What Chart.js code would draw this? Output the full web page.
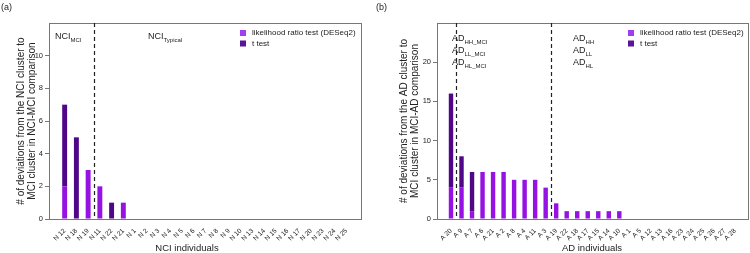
<!DOCTYPE html>
<html>
<head>
<meta charset="utf-8">
<script src="https://cdn.jsdelivr.net/npm/chart.js@4/dist/chart.umd.min.js"></script>
<style>
  body { margin: 0; background: #fff; }
  #wrap { position: relative; width: 750px; height: 253px; }
  canvas { position: absolute; top: 0; }
</style>
</head>
<body>
<div id="wrap">
  <canvas id="chartA" width="375" height="253" style="left:0"></canvas>
  <canvas id="chartB" width="375" height="253" style="left:375px"></canvas>
</div>
<script>
// panel (a) - NCI individuals
const nciLabels = ['N 12', 'N 18', 'N 19', 'N 11', 'N 22', 'N 21', 'N 1', 'N 2', 'N 3', 'N 4', 'N 5', 'N 6', 'N 7',
  'N 8', 'N 9', 'N 10', 'N 13', 'N 14', 'N 15', 'N 16', 'N 17', 'N 20', 'N 23', 'N 24', 'N 25'];
const nciLrt = [2, 0, 3, 2, 0, 1, 0, 0, 0, 0, 0, 0, 0, 0, 0, 0, 0, 0, 0, 0, 0, 0, 0, 0, 0];
const nciTtest = [5, 5, 0, 0, 1, 0, 0, 0, 0, 0, 0, 0, 0, 0, 0, 0, 0, 0, 0, 0, 0, 0, 0, 0, 0];
const nciYTicks = [0, 2, 4, 6, 8, 10];
const nciDividers = [2.5];

// panel (b) - AD individuals
const adLabels = ['A 20', 'A 9', 'A 7', 'A 6', 'A 21', 'A 2', 'A 8', 'A 4', 'A 11', 'A 3', 'A 19', 'A 22', 'A 18',
  'A 17', 'A 15', 'A 14', 'A 10', 'A 1', 'A 5', 'A 12', 'A 13', 'A 16', 'A 23', 'A 24', 'A 25', 'A 26', 'A 27', 'A 28'];
const adLrt = [4, 4, 1, 6, 6, 6, 5, 5, 5, 4, 2, 1, 1, 1, 1, 1, 1, 0, 0, 0, 0, 0, 0, 0, 0, 0, 0, 0];
const adTtest = [12, 4, 5, 0, 0, 0, 0, 0, 0, 0, 0, 0, 0, 0, 0, 0, 0, 0, 0, 0, 0, 0, 0, 0, 0, 0, 0, 0];
const adYTicks = [0, 5, 10, 15, 20];
const adDividers = [0.5, 9.5];

const seriesNames = ['likelihood ratio test (DESeq2)', 't test'];
const barColors = ['#9612e2', '#4f0788'];
const legendColors = ['#a03cf2', '#581598'];

const FONT = 'Arial, "Liberation Sans", Helvetica, sans-serif';
const TEXT = '#222';
const AXIS = '#777';

const toPoints = (arr) => arr.map((v, i) => ({ x: i, y: v }));

const drawSub = (ctx, x, y, main, sub) => {
  ctx.font = '9px ' + FONT;
  ctx.textBaseline = 'middle';
  ctx.textAlign = 'left';
  ctx.fillText(main, x, y);
  const w = ctx.measureText(main).width;
  ctx.font = '6px ' + FONT;
  ctx.fillText(sub, x + w, y + 3);
};

const makeChart = (id, cfg) => {
  const overlay = {
    id: 'overlay',
    afterDatasetsDraw(chart) {
      const { ctx, chartArea: a, scales } = chart;
      ctx.save();
      // frame
      ctx.strokeStyle = AXIS;
      ctx.lineWidth = 1;
      ctx.strokeRect(a.left + 0.5, a.top + 0.5, a.right - a.left - 1, a.bottom - a.top);
      // group dividers
      ctx.strokeStyle = '#222';
      ctx.lineWidth = 1.2;
      ctx.setLineDash([4, 3]);
      for (const d of cfg.dividers) {
        const px = Math.round(scales.x.getPixelForValue(d)) + 0.5;
        ctx.beginPath();
        ctx.moveTo(px, a.top);
        ctx.lineTo(px, a.bottom);
        ctx.stroke();
      }
      ctx.setLineDash([]);
      ctx.fillStyle = TEXT;
      // group labels
      for (const g of cfg.groups) drawSub(ctx, g[0], g[1], g[2], g[3]);
      // legend
      ctx.font = '8px ' + FONT;
      ctx.textBaseline = 'middle';
      chart.data.datasets.forEach((ds, i) => {
        const y = cfg.legend[1] + i * 10.5;
        ctx.fillStyle = legendColors[i];
        ctx.fillRect(cfg.legend[0], y - 3, 6, 6);
        ctx.fillStyle = TEXT;
        ctx.fillText(ds.label, cfg.legend[0] + 12, y);
      });
      // x title and panel letter
      ctx.font = '9.5px ' + FONT;
      ctx.textAlign = 'center';
      ctx.fillText(cfg.xTitle, cfg.xTitleX, 248);
      ctx.textAlign = 'left';
      ctx.font = '9px ' + FONT;
      ctx.fillText(cfg.letter, 1, 8);
      ctx.restore();
    }
  };

  return new Chart(document.getElementById(id), {
    type: 'bar',
    data: {
      datasets: [
        { label: seriesNames[0], data: toPoints(cfg.lrt), backgroundColor: barColors[0] },
        { label: seriesNames[1], data: toPoints(cfg.ttest), backgroundColor: barColors[1] }
      ]
    },
    options: {
      responsive: false,
      animation: false,
      layout: { padding: { top: 23, right: cfg.padRight, left: 0, bottom: 0 } },
      datasets: { bar: { barPercentage: 0.42, categoryPercentage: 1 } },
      plugins: { legend: { display: false }, tooltip: { enabled: false } },
      scales: {
        x: {
          type: 'linear',
          stacked: true,
          min: -0.8,
          max: cfg.labels.length - 0.2,
          grid: { display: false },
          border: { display: false },
          afterBuildTicks: (s) => { s.ticks = cfg.labels.map((_, i) => ({ value: i })); },
          afterFit: (s) => { s.height = 34; },
          ticks: {
            autoSkip: false,
            minRotation: 45,
            maxRotation: 45,
            padding: 0,
            color: TEXT,
            font: { family: FONT, size: 6.6 },
            callback: (v) => cfg.labels[v]
          }
        },
        y: {
          stacked: true,
          min: 0,
          max: cfg.yMax,
          border: { display: false },
          grid: { drawOnChartArea: false, tickLength: 4, color: AXIS },
          afterBuildTicks: (s) => { s.ticks = cfg.yTicks.map((v) => ({ value: v })); },
          afterFit: (s) => { s.width = cfg.yWidth; },
          ticks: { padding: 2, color: TEXT, font: { family: FONT, size: 7.5 } },
          title: {
            display: true,
            text: cfg.yTitle,
            color: TEXT,
            font: { family: FONT, size: 10, lineHeight: 1.1 },
            padding: { top: cfg.yTitlePad, bottom: 0 }
          }
        }
      }
    },
    plugins: [overlay]
  });
};

makeChart('chartA', {
  labels: nciLabels, lrt: nciLrt, ttest: nciTtest, yTicks: nciYTicks, yMax: 12,
  dividers: nciDividers, yWidth: 49, padRight: 13, yTitlePad: 16,
  yTitle: ['# of deviations from the NCI cluster to', 'MCI cluster in NCI-MCI comparison'],
  xTitle: 'NCI individuals', xTitleX: 187, letter: '(a)',
  groups: [[55, 37, 'NCI', 'MCI'], [148, 37, 'NCI', 'Typical']],
  legend: [240, 33]
});

makeChart('chartB', {
  labels: adLabels, lrt: adLrt, ttest: adTtest, yTicks: adYTicks, yMax: 25,
  dividers: adDividers, yWidth: 62, padRight: 1, yTitlePad: 24,
  yTitle: ['# of deviations from the AD cluster to', 'MCI cluster in MCI-AD comparison'],
  xTitle: 'AD individuals', xTitleX: 217, letter: '(b)',
  groups: [[77, 39, 'AD', 'HH_MCI'], [77, 51, 'AD', 'LL_MCI'], [77, 63, 'AD', 'HL_MCI'],
           [198, 39, 'AD', 'HH'], [198, 51, 'AD', 'LL'], [198, 63, 'AD', 'HL']],
  legend: [253, 33]
});
</script>
</body>
</html>
